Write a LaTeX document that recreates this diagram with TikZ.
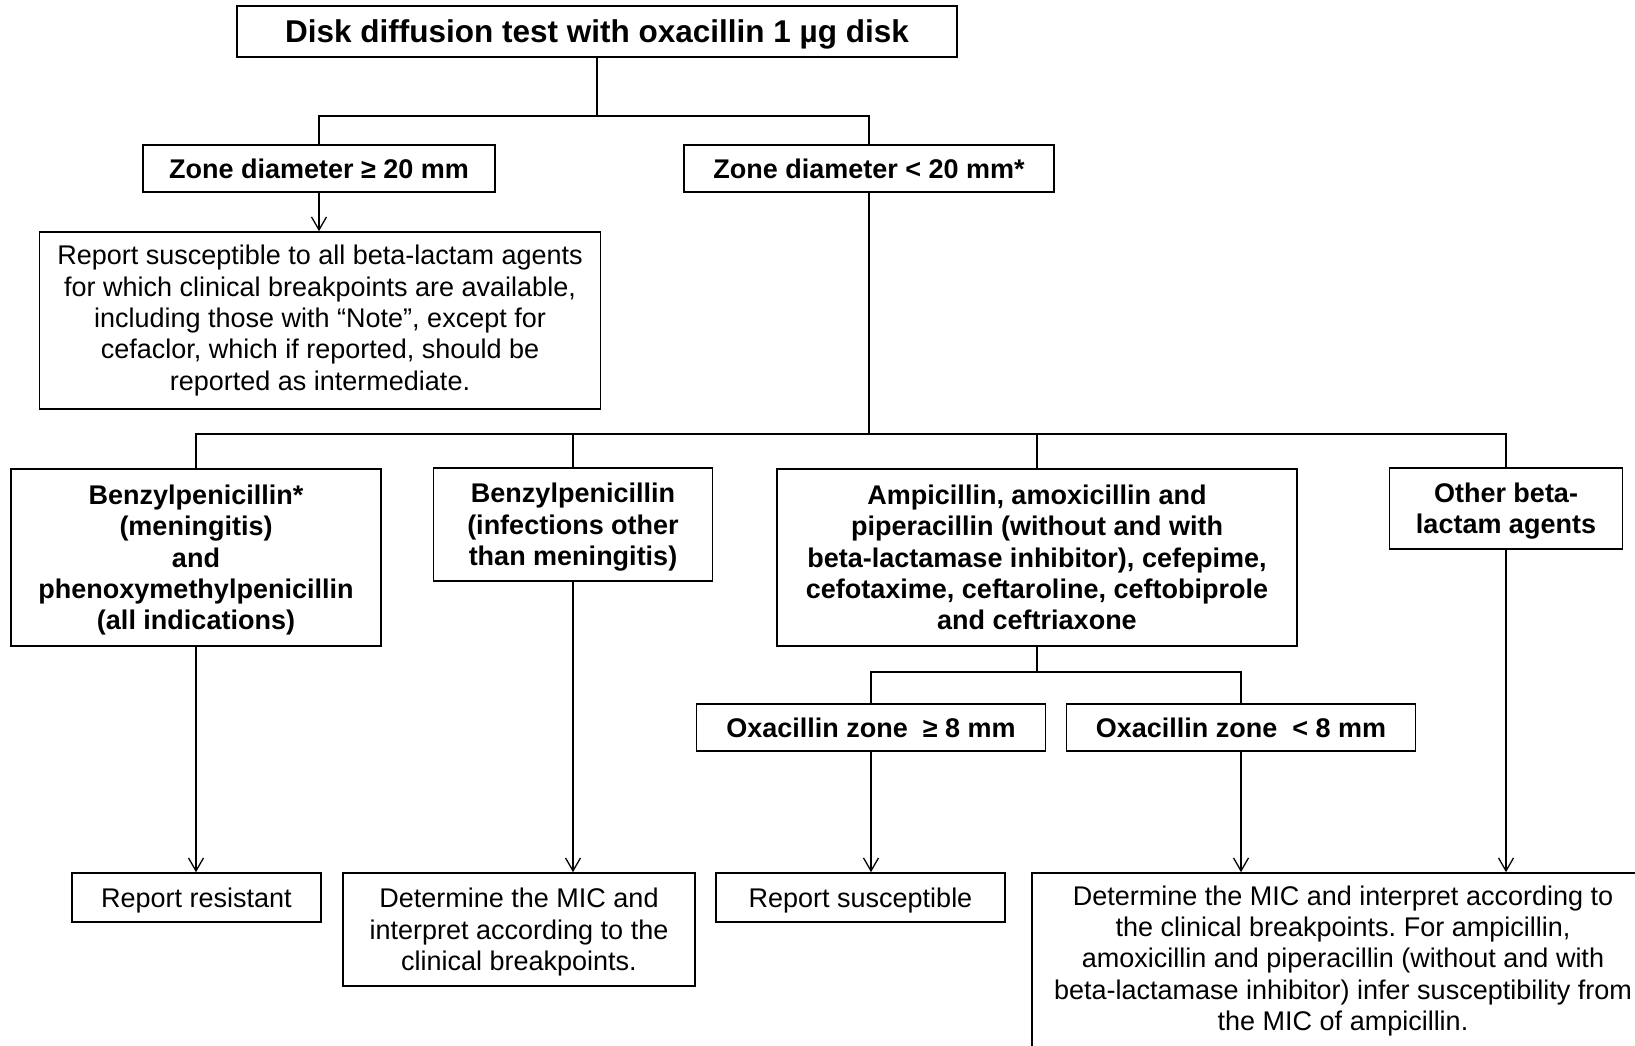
\documentclass[tikz,border=0pt]{standalone}
\usepackage{fontspec}
\setmainfont{Liberation Sans}
\usetikzlibrary{arrows.meta}
\frenchspacing
\begin{document}
\begin{tikzpicture}[x=1pt,y=-1pt,
  box/.style={draw=black, line width=1.6pt, inner sep=2pt, align=center, fill=white,
              font=\fontsize{27}{31.3}\selectfont},
  bbox/.style={box, font=\fontsize{27}{31.3}\selectfont\bfseries},
  nodepth/.style={text depth=0pt},
  conn/.style={draw=black, line width=1.3pt},
  arr/.style={conn, -{Straight Barb[length=13pt,width=15pt]}}]
\useasboundingbox (0,0) rectangle (1635,1046);
\clip (0,0) rectangle (1635,1046);
\fill[white] (0,0) rectangle (1635,1046);

% nodes
\node[box, nodepth, font=\fontsize{31.5}{36}\selectfont\bfseries, minimum width=720pt, minimum height=51pt] (top) at (597,31.5) {Disk diffusion test with oxacillin 1 µg disk};
\node[bbox, minimum width=352pt, minimum height=47pt] (z1) at (319,168.5) {Zone diameter ≥ 20 mm};
\node[bbox, minimum width=370pt, minimum height=47pt] (z2) at (869,168.5) {Zone diameter < 20 mm*};
\node[box, minimum width=561pt, minimum height=177pt] (rep) at (320,320.5) {Report susceptible to all beta-lactam agents\\for which clinical breakpoints are available,\\including those with “Note”, except for\\cefaclor, which if reported, should be\\reported as intermediate.};
\node[bbox, nodepth, minimum width=370pt, minimum height=177pt] (b1) at (196,557.5) {Benzylpenicillin*\\(meningitis)\\and\\phenoxymethylpenicillin\\(all indications)};
\node[bbox, nodepth, minimum width=279pt, minimum height=113pt] (b2) at (573,524.5) {Benzylpenicillin\\(infections other\\than meningitis)};
\node[bbox, minimum width=520pt, minimum height=177pt] (b3) at (1037,557.5) {Ampicillin, amoxicillin and\\piperacillin (without and with\\beta-lactamase inhibitor), cefepime,\\cefotaxime, ceftaroline, ceftobiprole\\and ceftriaxone};
\node[bbox, nodepth, minimum width=233pt, minimum height=81pt] (b4) at (1506,508.5) {Other beta-\\lactam agents};
\node[bbox, minimum width=349pt, minimum height=47pt] (o1) at (871,727.5) {Oxacillin zone~~≥ 8 mm};
\node[bbox, minimum width=349pt, minimum height=47pt] (o2) at (1241,727.5) {Oxacillin zone~~< 8 mm};
\node[box, nodepth, minimum width=249pt, minimum height=49pt] (rr) at (196.5,897.5) {Report resistant};
\node[box, nodepth, minimum width=352pt, minimum height=113pt] (dm) at (519,929.5) {Determine the MIC and\\interpret according to the\\clinical breakpoints.};
\node[box, nodepth, minimum width=289pt, minimum height=49pt] (rs) at (860.5,897.5) {Report susceptible};
\node[box, minimum width=622pt, minimum height=176pt] (big) at (1343,961) {Determine the MIC and interpret according to\\the clinical breakpoints. For ampicillin,\\amoxicillin and piperacillin (without and with\\beta-lactamase inhibitor) infer susceptibility from\\the MIC of ampicillin.};

% split points
\coordinate (s1) at (597,116);
\coordinate (s2) at (869,434);
\coordinate (s3) at (1037,672);

% connectors
\draw[conn] (top.south) -- (s1);
\draw[conn] (z1.north) -- (z1.north |- s1) -- (z2.north |- s1) -- (z2.north);
\draw[arr] (z1.south) -- (z1.south |- rep.north);
\draw[conn] (z2.south) -- (s2);
\draw[conn] (b1.north) -- (b1.north |- s2) -- (b4.north |- s2) -- (b4.north);
\draw[conn] (b2.north) -- (b2.north |- s2);
\draw[conn] (b3.north) -- (b3.north |- s2);
\draw[arr] (b1.south) -- (b1.south |- rr.north);
\draw[arr] (b2.south) -- (b2.south |- dm.north);
\draw[conn] (b3.south) -- (s3);
\draw[conn] (o1.north) -- (o1.north |- s3) -- (o2.north |- s3) -- (o2.north);
\draw[arr] (o1.south) -- (o1.south |- rs.north);
\draw[arr] (o2.south) -- (o2.south |- big.north);
\draw[arr] (b4.south) -- (b4.south |- big.north);
\end{tikzpicture}
\end{document}
